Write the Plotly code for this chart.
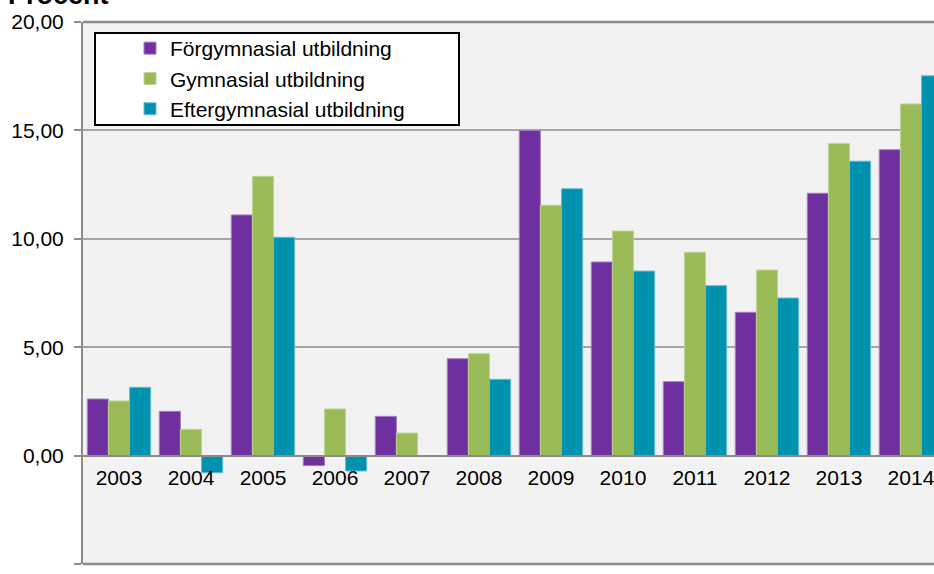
import plotly.graph_objects as go

years = ["2003", "2004", "2005", "2006", "2007", "2008", "2009", "2010", "2011", "2012", "2013", "2014"]
forgymnasial = [2.61, 2.04, 11.10, -0.46, 1.81, 4.47, 15.00, 8.93, 3.41, 6.61, 12.10, 14.11]
gymnasial = [2.52, 1.21, 12.88, 2.15, 1.04, 4.70, 11.55, 10.36, 9.38, 8.56, 14.40, 16.22]
eftergymnasial = [3.15, -0.79, 10.07, -0.71, 0.00, 3.52, 12.31, 8.51, 7.84, 7.27, 13.58, 17.52]
series_names = ["Förgymnasial utbildning", "Gymnasial utbildning", "Eftergymnasial utbildning"]
y_ticks = [-5, 0, 5, 10, 15, 20]
y_tick_labels = ["-5,00", "0,00", "5,00", "10,00", "15,00", "20,00"]

colors = ["#7030A0", "#9BBB59", "#0091AE"]
edge = ["#A27CC4", "#BFD58F", "#66BDCE"]
FONT = "Liberation Sans, Arial, sans-serif"

fig = go.Figure()
for i, (name, vals) in enumerate(zip(series_names, [forgymnasial, gymnasial, eftergymnasial])):
    fig.add_trace(go.Bar(
        x=years, y=vals, name=name, legendgroup=name,
        marker=dict(color=colors[i], line=dict(color=edge[i], width=1)),
    ))

W, H = 934, 574
L, R, T, B = 83, 0, 22, 10
pw = W - L - R
ph = H - T - B

def px_x(p):
    return (p - L) / pw

def px_y(p):
    return 1 - (p - T) / ph

fig.update_layout(
    width=W, height=H,
    margin=dict(l=L, r=R, t=T, b=B, pad=0, autoexpand=False),
    paper_bgcolor="white",
    plot_bgcolor="#F2F2F2",
    barmode="group",
    bargap=0.12,
    bargroupgap=0,
    font=dict(family=FONT, color="black"),
    showlegend=True,
    legend=dict(
        x=px_x(130), y=px_y(28), xanchor="left", yanchor="top",
        bgcolor="rgba(0,0,0,0)", borderwidth=0,
        font=dict(size=21, family=FONT, color="black"),
        tracegroupgap=8, traceorder="normal",
    ),
    xaxis=dict(
        type="category", range=[-0.5, 11.32],
        anchor="free", position=0.2, automargin=False,
        showline=True, linecolor="#8C8C8C", linewidth=2,
        ticks="", showgrid=False, zeroline=False,
        tickfont=dict(size=21, family=FONT, color="black"),
        ticklabelstandoff=3,
    ),
    yaxis=dict(
        range=[-5, 20], tickvals=y_ticks, ticktext=y_tick_labels,
        automargin=False,
        showline=True, linecolor="#8C8C8C", linewidth=2,
        ticks="outside", ticklen=7, tickcolor="#8C8C8C", tickwidth=2,
        showgrid=True, gridcolor="#A6A6A6", gridwidth=1.5,
        zeroline=False,
        tickfont=dict(size=21, family=FONT, color="black"),
        ticklabelstandoff=6,
    ),
    shapes=[
        dict(type="line", xref="paper", yref="paper", x0=0, x1=1, y0=1, y1=1,
             line=dict(color="#8C8C8C", width=2.5)),
        dict(type="line", xref="paper", yref="paper", x0=0, x1=1, y0=0, y1=0,
             line=dict(color="#8C8C8C", width=2.5)),
        dict(type="rect", xref="paper", yref="paper", layer="above",
             x0=px_x(95), x1=px_x(459), y0=px_y(125), y1=px_y(33),
             fillcolor="white", line=dict(color="black", width=2)),
    ],
    annotations=[
        dict(text="<b>Procent</b>", xref="paper", yref="paper",
             x=px_x(6), y=1, xanchor="left", yanchor="bottom", yshift=10,
             showarrow=False, font=dict(size=27, family=FONT, color="black")),
    ],
)

fig.write_html(
    "out.html",
    config={"displayModeBar": False},
    post_script="document.body.style.margin='0';document.body.style.overflow='hidden';",
)
